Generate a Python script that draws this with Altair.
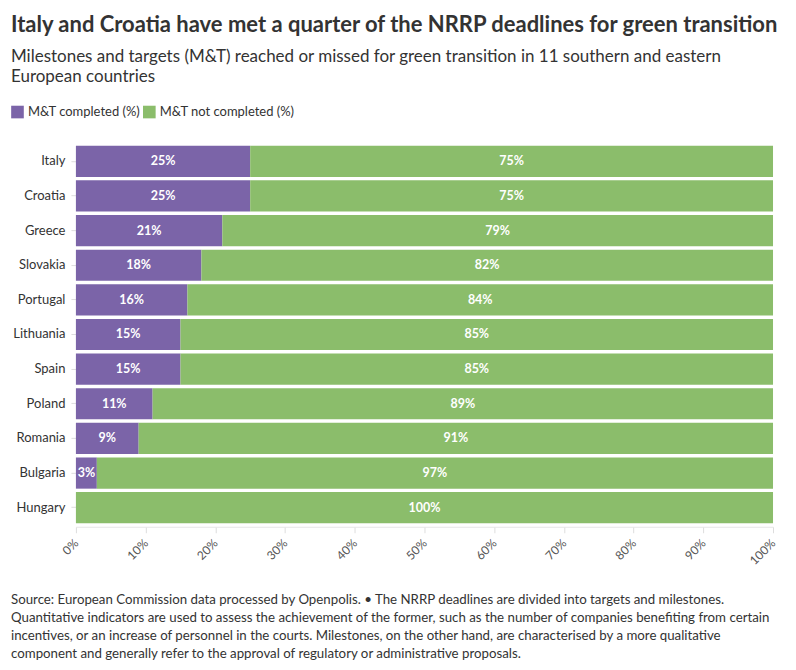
import altair as alt
import pandas as pd

countries = ["Italy", "Croatia", "Greece", "Slovakia", "Portugal", "Lithuania",
             "Spain", "Poland", "Romania", "Bulgaria", "Hungary"]
completed = [25, 25, 21, 18, 16, 15, 15, 11, 9, 3, 0]
not_completed = [75, 75, 79, 82, 84, 85, 85, 89, 91, 97, 100]
series = ["M&T completed (%)", "M&T not completed (%)"]
colors = ["#7b64a8", "#8bbd6b"]

title_text = "Italy and Croatia have met a quarter of the NRRP deadlines for green transition"
subtitle_lines = ["Milestones and targets (M&T) reached or missed for green transition in 11 southern and eastern",
                  "European countries"]
footer_lines = [
    "Source: European Commission data processed by Openpolis. \u2022 The NRRP deadlines are divided into targets and milestones.",
    "Quantitative indicators are used to assess the achievement of the former, such as the number of companies benefiting from certain",
    "incentives, or an increase of personnel in the courts. Milestones, on the other hand, are characterised by a more qualitative",
    "component and generally refer to the approval of regulatory or administrative proposals.",
]

rows = []
for c, a, b in zip(countries, completed, not_completed):
    rows.append({"country": c, "series": series[0], "value": a, "order": 0})
    rows.append({"country": c, "series": series[1], "value": b, "order": 1})
df = pd.DataFrame(rows)

FONT = "Lato"
W, H = 698, 385

base = alt.Chart(df).transform_stack(
    stack="value", groupby=["country"], as_=["x0", "x1"],
    sort=[alt.SortField("order", order="ascending")]
).transform_calculate(
    mid="(datum.x0 + datum.x1) / 2",
    label="datum.value > 0 ? datum.value + '%' : ''"
)

ysc = alt.Y("country:N", sort=countries, title=None,
            scale=alt.Scale(paddingInner=0.1, paddingOuter=0.1),
            axis=alt.Axis(labelFont=FONT, labelFontSize=13, labelColor="#333333",
                          tickColor="#dddddd", tickSize=5, domain=False,
                          labelPadding=6, minExtent=62, maxExtent=62))

bars = base.mark_bar().encode(
    y=ysc,
    x=alt.X("x0:Q", title=None,
            scale=alt.Scale(domain=[0, 100], nice=False),
            axis=alt.Axis(values=list(range(0, 101, 10)), labelExpr="datum.value + '%'",
                          labelAngle=-45, labelAlign="right", labelBaseline="middle",
                          labelFont=FONT, labelFontSize=12, labelColor="#555555",
                          grid=False, tickColor="#dddddd", tickSize=6,
                          domainColor="#e6e6e6", labelPadding=8)),
    x2="x1:Q",
    color=alt.Color("series:N", scale=alt.Scale(domain=series, range=colors),
                    legend=alt.Legend(title=None, orient="none", legendX=-65, legendY=-37,
                                      direction="horizontal", symbolType="square",
                                      symbolSize=160, symbolStrokeWidth=0, symbolOpacity=1,
                                      labelFont=FONT, labelFontSize=13, labelColor="#333333",
                                      columnPadding=2, symbolOffset=0, labelOffset=4)),
)

labels = base.mark_text(color="white", font=FONT, fontWeight="bold", fontSize=12.5).encode(
    y=alt.Y("country:N", sort=countries),
    x=alt.X("mid:Q"),
    text="label:N",
)

footer = alt.Chart(pd.DataFrame({"t": [0]})).mark_text(
    text=footer_lines, align="left", baseline="top", font=FONT, fontSize=13.3,
    color="#333333", lineHeight=18
).encode(x=alt.value(-65), y=alt.value(H + 66))

chart = alt.layer(bars, labels, footer).properties(
    width=W, height=H,
    title=alt.TitleParams(
        text=title_text, subtitle=subtitle_lines, anchor="start", frame="bounds",
        font=FONT, fontSize=22, fontWeight="bold", color="#333333",
        subtitleFont=FONT, subtitleFontSize=17, subtitleColor="#333333",
        subtitleLineHeight=20, subtitlePadding=12, offset=19, dx=0
    ),
    padding={"left": 3, "top": 6, "right": 8, "bottom": 5},
).configure_view(stroke=None).configure_axis(labelFont=FONT)

chart.save("out.html", embed_options={"renderer": "svg", "actions": False})
